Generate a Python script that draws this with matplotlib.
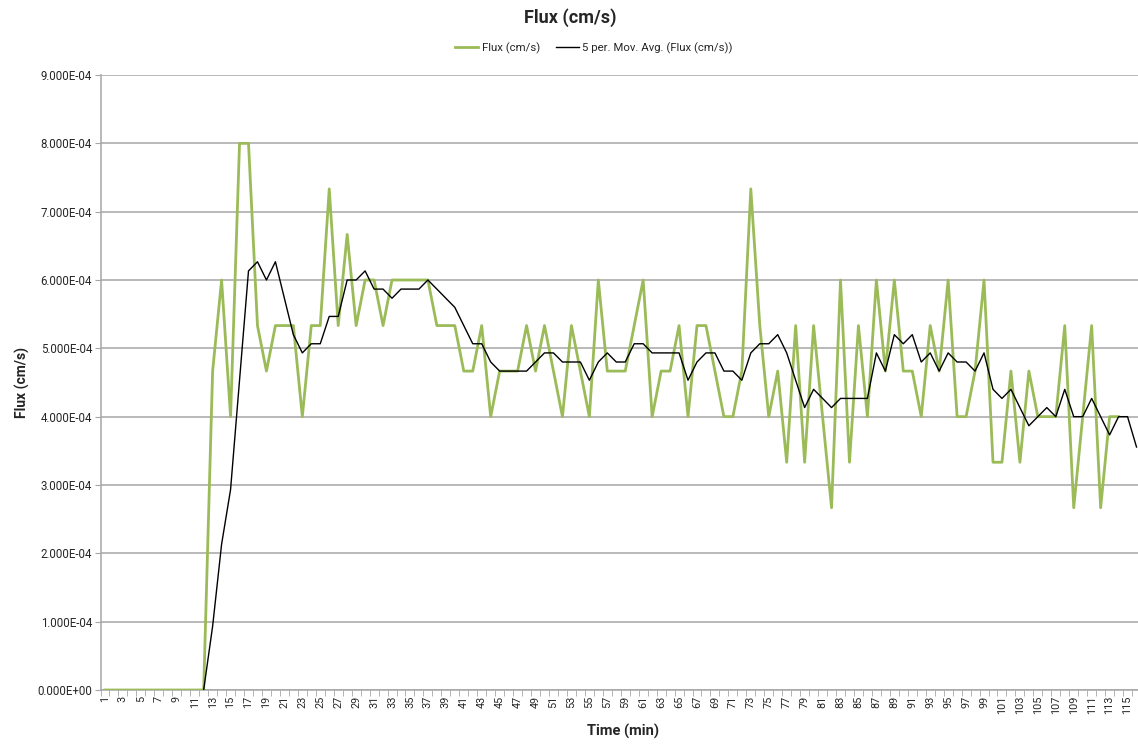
import numpy as np
import matplotlib
matplotlib.use("Agg")
import matplotlib.pyplot as plt
from matplotlib.ticker import FuncFormatter, FixedLocator

plt.rcParams["font.family"] = ["Roboto", "DejaVu Sans"]

# ---- data ----
# time axis categories 1..116 (115, 116 have no flux reading)
time_min = list(range(1, 117))

# flux in cm/s, x1e-4, minutes 1..114
flux_e4 = [
    0, 0, 0, 0, 0, 0, 0, 0, 0, 0, 0, 0,
    4.667, 6.0, 4.0, 8.0, 8.0, 5.333, 4.667, 5.333, 5.333, 5.333,
    4.0, 5.333, 5.333, 7.333, 5.333, 6.667, 5.333, 6.0, 6.0, 5.333,
    6.0, 6.0, 6.0, 6.0, 6.0, 5.333, 5.333, 5.333, 4.667, 4.667,
    5.333, 4.0, 4.667, 4.667, 4.667, 5.333, 4.667, 5.333, 4.667, 4.0,
    5.333, 4.667, 4.0, 6.0, 4.667, 4.667, 4.667, 5.333, 6.0, 4.0,
    4.667, 4.667, 5.333, 4.0, 5.333, 5.333, 4.667, 4.0, 4.0, 4.667,
    7.333, 5.333, 4.0, 4.667, 3.333, 5.333, 3.333, 5.333, 4.0, 2.667,
    6.0, 3.333, 5.333, 4.0, 6.0, 4.667, 6.0, 4.667, 4.667, 4.0,
    5.333, 4.667, 6.0, 4.0, 4.0, 4.667, 6.0, 3.333, 3.333, 4.667,
    3.333, 4.667, 4.0, 4.0, 4.0, 5.333, 2.667, 4.0, 5.333, 2.667,
    4.0, 4.0,
]

# 5 period moving average as drawn, x1e-4, minutes 12..116
mov_avg_e4 = [
    0.0, 0.933, 2.133, 2.933, 4.533, 6.133, 6.267, 6.0, 6.267, 5.733,
    5.2, 4.933, 5.067, 5.067, 5.467, 5.467, 6.0, 6.0, 6.133, 5.867,
    5.867, 5.733, 5.867, 5.867, 5.867, 6.0, 5.867, 5.733, 5.6, 5.333,
    5.067, 5.067, 4.8, 4.667, 4.667, 4.667, 4.667, 4.8, 4.933, 4.933,
    4.8, 4.8, 4.8, 4.533, 4.8, 4.933, 4.8, 4.8, 5.067, 5.067,
    4.933, 4.933, 4.933, 4.933, 4.533, 4.8, 4.933, 4.933, 4.667, 4.667,
    4.533, 4.933, 5.067, 5.067, 5.2, 4.933, 4.533, 4.133, 4.4, 4.267,
    4.133, 4.267, 4.267, 4.267, 4.267, 4.933, 4.667, 5.2, 5.067, 5.2,
    4.8, 4.933, 4.667, 4.933, 4.8, 4.8, 4.667, 4.933, 4.4, 4.267,
    4.4, 4.133, 3.867, 4.0, 4.133, 4.0, 4.4, 4.0, 4.0, 4.267,
    4.0, 3.733, 4.0, 4.0, 3.556,
]

flux = np.array(flux_e4) * 1e-4
mov_avg = np.array(mov_avg_e4) * 1e-4
x_flux = np.array(time_min[:len(flux)])
x_ma = np.array(time_min[11:11 + len(mov_avg)])

GREEN = "#9bbb59"
GRID = "#a6a6a6"
TXT = "#262626"

fig = plt.figure(figsize=(11.38, 7.44), dpi=100)
ax = fig.add_axes([100.5 / 1138, 54 / 744, 1040.5 / 1138, 615 / 744])

ax.plot(x_flux, flux, color=GREEN, lw=2.0, label="Flux (cm/s)", zorder=3)
ax.plot(x_ma, mov_avg, color="black", lw=1.0,
        label="5 per. Mov. Avg. (Flux (cm/s))", zorder=4)

ax.set_xlim(0.5, len(time_min) + 0.5)
ax.set_ylim(0, 9e-4)

# y axis
ax.set_yticks(np.arange(0, 9.01e-4, 1e-4))
ax.yaxis.set_major_formatter(FuncFormatter(lambda v, p: f"{v:.3E}"))
ax.grid(axis="y", color=GRID, lw=1.1, zorder=0)
ax.tick_params(axis="y", length=4, color=GRID, labelsize=8.3, labelcolor=TXT, pad=2)

# x axis: labels every 2nd category, ticks at category borders
ax.xaxis.set_major_locator(FixedLocator(time_min[::2]))
ax.set_xticklabels([str(t) for t in time_min[::2]], rotation=90)
ax.xaxis.set_minor_locator(FixedLocator(np.arange(0.5, len(time_min) + 1, 1)))
ax.tick_params(axis="x", which="major", length=0, labelsize=7.8, labelcolor=TXT, pad=4)
ax.tick_params(axis="x", which="minor", length=4, color=GRID)

for s in ["top", "right"]:
    ax.spines[s].set_visible(False)
ax.spines["left"].set_color(GRID)
ax.spines["bottom"].set_color(GRID)
ax.spines["left"].set_linewidth(1.1)
ax.spines["bottom"].set_linewidth(1.1)

ax.set_ylabel("Flux (cm/s)", fontsize=10, fontweight="bold", color=TXT, labelpad=5)
fig.text(623 / 1138, 1 - 731 / 744, "Time (min)", fontsize=10.5, fontweight="bold",
         color=TXT, ha="center", va="center")
fig.text(570 / 1138, 1 - 18 / 744, "Flux (cm/s)", fontsize=13, fontweight="bold",
         color=TXT, ha="center", va="center")

fig.legend(loc="center", bbox_to_anchor=(594 / 1138, 1 - 48 / 744), ncol=2,
           frameon=False, fontsize=8.2, handlelength=2.0, handletextpad=0.3,
           columnspacing=1.4, labelcolor=TXT)

fig.savefig("out.png", dpi=100)
